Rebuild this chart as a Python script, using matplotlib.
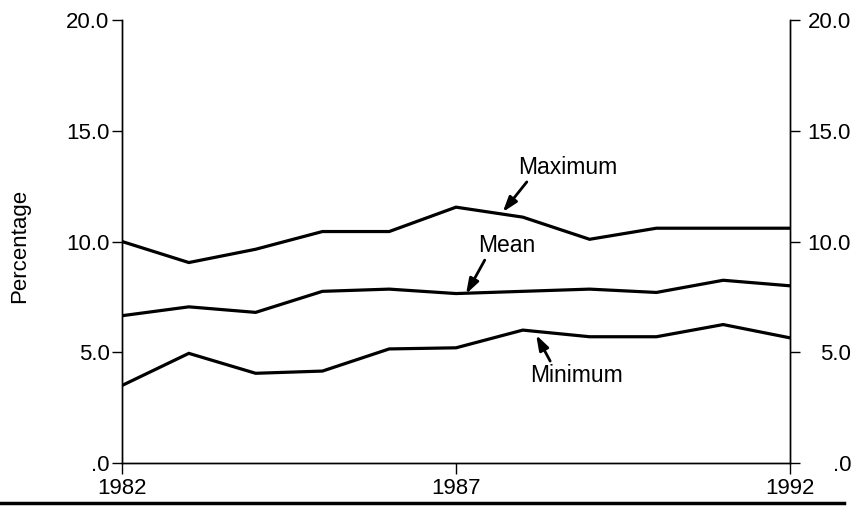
import matplotlib.pyplot as plt
from matplotlib.lines import Line2D

years = [1982, 1983, 1984, 1985, 1986, 1987, 1988, 1989, 1990, 1991, 1992]
maximum = [10.0, 9.05, 9.65, 10.45, 10.45, 11.55, 11.1, 10.1, 10.6, 10.6, 10.6]
mean = [6.65, 7.05, 6.8, 7.75, 7.85, 7.65, 7.75, 7.85, 7.7, 8.25, 8.0]
minimum = [3.5, 4.95, 4.05, 4.15, 5.15, 5.2, 6.0, 5.7, 5.7, 6.25, 5.65]

x_ticks = [1982, 1987, 1992]
y_ticks = [0, 5, 10, 15, 20]
y_labels = [".0", "5.0", "10.0", "15.0", "20.0"]

plt.rcParams['font.family'] = ['Liberation Sans', 'DejaVu Sans']

fig = plt.figure(figsize=(8.57, 5.08), dpi=100)
ax = fig.add_axes([0.1424, 0.0886, 0.7794, 0.872])

# tres series en negro
for serie in (maximum, mean, minimum):
    ax.plot(years, serie, color="black", linewidth=2.3, solid_joinstyle="miter")

ax.set_xlim(1982, 1992)
ax.set_ylim(0, 20)
ax.set_xticks(x_ticks)
ax.set_xticklabels([str(t) for t in x_ticks], fontsize=16)
ax.set_yticks(y_ticks)
ax.set_yticklabels(y_labels, fontsize=16)
ax.tick_params(axis="y", direction="out", length=7, width=1, pad=2)
ax.tick_params(axis="x", direction="out", length=8, width=1, pad=2.5)

# eje derecho con etiquetas alineadas a la derecha
ax2 = ax.twinx()
ax2.set_ylim(0, 20)
ax2.set_yticks(y_ticks)
ax2.set_yticklabels(y_labels, fontsize=16, ha="right")
ax2.tick_params(axis="y", direction="out", length=7, width=1, pad=37)

for eje in (ax, ax2):
    eje.spines["top"].set_visible(False)
    for lado in ("left", "right", "bottom"):
        eje.spines[lado].set_linewidth(1)

ax.set_ylabel("Percentage", fontsize=16)
ax.yaxis.set_label_coords(-0.137, 0.49)

flecha = dict(arrowstyle="-|>,head_length=0.9,head_width=0.3", color="black",
              lw=2, shrinkA=0, shrinkB=0)
# etiquetas de las series con sus flechas
ax.text(1988.68, 13.32, "Maximum", fontsize=16.5, ha="center", va="center")
ax.annotate("", xy=(1987.70, 11.33), xytext=(1988.06, 12.69), arrowprops=flecha)
ax.text(1987.76, 9.80, "Mean", fontsize=16.5, ha="center", va="center")
ax.annotate("", xy=(1987.15, 7.63), xytext=(1987.43, 9.16), arrowprops=flecha)
ax.text(1988.80, 3.97, "Minimum", fontsize=16.5, ha="center", va="center")
ax.annotate("", xy=(1988.20, 5.78), xytext=(1988.41, 4.60), arrowprops=flecha)

# linea gruesa al pie de la figura
fig.add_artist(Line2D([0.0, 0.985], [0.01, 0.01], color="black", linewidth=2.5,
                      transform=fig.transFigure))

fig.savefig("out.png", dpi=100)
